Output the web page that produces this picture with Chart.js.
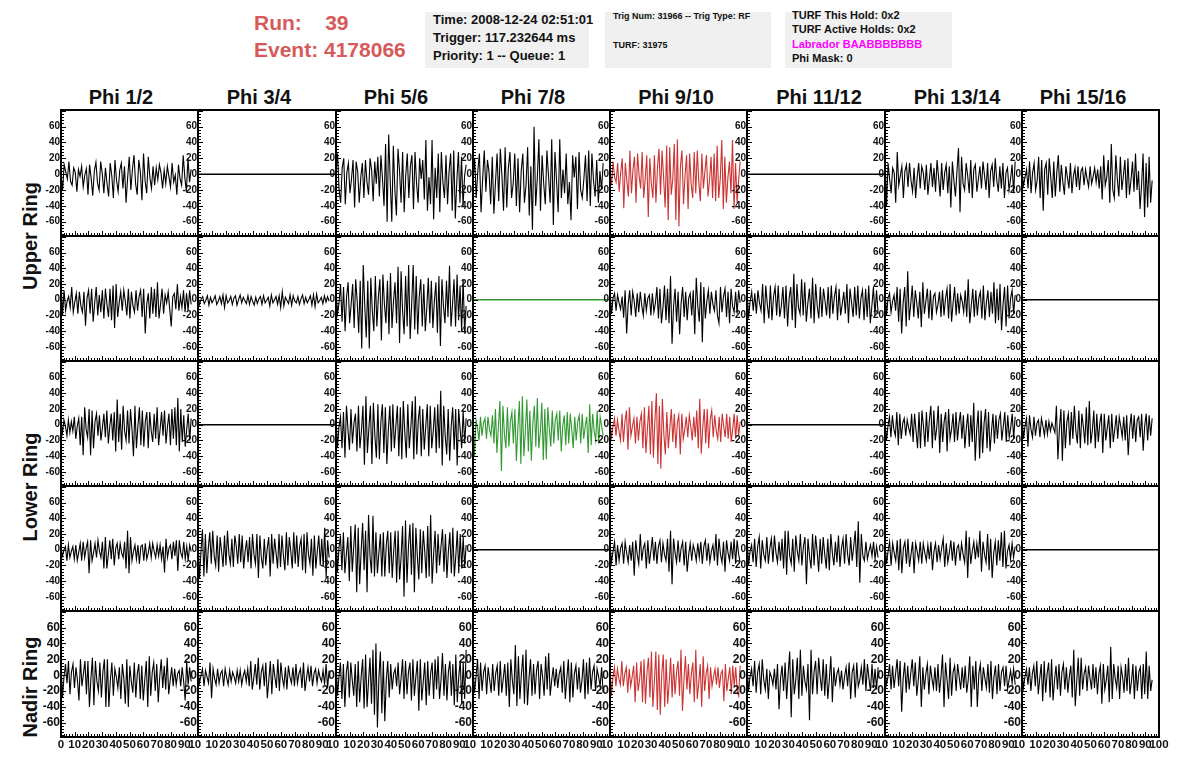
<!DOCTYPE html>
<html>
<head>
<meta charset="utf-8">
<title>Event 4178066</title>
<script src="https://cdn.jsdelivr.net/npm/chart.js@4"></script>
<style>
  html, body { margin: 0; background: #fff; }
  body { position: relative; width: 1196px; height: 772px; overflow: hidden; font-family: 'Liberation Sans', Arial, sans-serif; font-weight: bold; color: #111; }
  canvas { position: absolute; }
  .txt { position: absolute; white-space: pre; }
  .box { position: absolute; background: #f0f0f0; top: 12px; height: 56px; }
  .phi { position: absolute; top: 86px; width: 137px; text-align: center; font-size: 20px; line-height: 22px; }
  .ring { position: absolute; left: 30px; font-size: 20px; line-height: 22px; white-space: pre; transform: translate(-50%, -50%) rotate(-90deg); }
</style>
</head>
<body>
<div class="txt" style="left:254px;top:11px;font-size:21px;color:#d65a5a">Run:    39</div>
<div class="txt" style="left:254px;top:38px;font-size:21px;color:#d65a5a">Event: 4178066</div>
<div class="box" style="left:425px;width:164px"></div>
<div class="box" style="left:605px;width:166px"></div>
<div class="box" style="left:785px;width:167px"></div>
<div class="txt" style="left:433px;top:12px;font-size:13px">Time: 2008-12-24 02:51:01</div>
<div class="txt" style="left:433px;top:30px;font-size:13px">Trigger: 117.232644 ms</div>
<div class="txt" style="left:433px;top:48px;font-size:13px">Priority: 1 -- Queue: 1</div>
<div class="txt" style="left:613px;top:11px;font-size:9px">Trig Num: 31966 -- Trig Type: RF</div>
<div class="txt" style="left:613px;top:40px;font-size:9px">TURF: 31975</div>
<div class="txt" style="left:792px;top:9px;font-size:11px">TURF This Hold: 0x2</div>
<div class="txt" style="left:792px;top:23px;font-size:11px">TURF Active Holds: 0x2</div>
<div class="txt" style="left:792px;top:38px;font-size:11px;color:#ff00ff">Labrador BAABBBBBBB</div>
<div class="txt" style="left:792px;top:52px;font-size:11px">Phi Mask: 0</div>
<div class="ring" style="top:236px">Upper Ring</div>
<div class="ring" style="top:487px">Lower Ring</div>
<div class="ring" style="top:687px">Nadir Ring</div>

<script>
var phiTitles = ['Phi 1/2', 'Phi 3/4', 'Phi 5/6', 'Phi 7/8', 'Phi 9/10', 'Phi 11/12', 'Phi 13/14', 'Phi 15/16'];
var xTickLabels = [0, 10, 20, 30, 40, 50, 60, 70, 80, 90, 100];
var yTickLabels = [-60, -40, -20, 0, 20, 40, 60];

// dead channels, one straight trace over the whole window
var flat = [0, 0];

var row1phi1 = [0,-20,12,3,-6,16,-9,-14,8,2,-22,6,-3,10,-16,-1,7,-26,12,-5,-27,4,15,-11,-20,16,1,-24,8,-12,-28,14,-2,-30,18,-8,-22,5,14,-18,10,-36,-4,22,-20,6,24,-12,-26,18,3,-33,26,-9,-24,22,-4,-18,10,-14,8,-7,12,2,-18,5,-12,10,-3,-16,14,-10,-1,-26,12,-6,-14,24,-4,-22,20,-10,6];
var row1phi3 = [4,26,-20,-36,8,20,-38,2,14,-24,-6,18,-42,16,3,-36,-4,14,-30,18,-10,-26,20,5,-34,16,-12,22,-28,24,-6,-40,38,-60,50,-8,-60,36,-20,-52,32,4,-36,28,-48,-2,26,-30,10,24,-44,28,-12,-36,20,-6,18,-32,43,-46,-4,-38,43,-57,8,-30,26,-48,28,-10,-30,24,-38,4,26,-46,30,-56,-8,28,-36,22,-40,-2,12];
var row1phi4 = [-8,20,-30,4,26,-48,-6,30,-22,18,2,-38,22,-50,-10,26,-34,32,-2,-46,34,-42,8,28,-30,-12,26,-40,20,-48,4,26,-36,-14,34,-52,10,-70,60,-40,-6,44,-46,24,-12,-38,30,-2,-36,44,-64,28,-8,-48,44,-30,6,-24,26,-38,-10,-58,24,-4,22,-44,28,-20,-30,-6,24,-34,30,-40,26,-8,-28,18,-36,4,-20,14];
var row1phi5 = [6,-14,16,-4,-10,14,-22,2,20,-43,14,-8,-28,30,-24,6,22,-36,26,-2,-18,28,-30,-6,24,-54,20,-12,-30,24,-36,8,32,-26,30,-4,-42,36,-58,34,-26,-6,38,-58,44,-66,10,30,-38,-2,24,-44,26,-12,-30,28,-24,30,-10,-34,26,-18,4,24,-28,-8,22,-30,26,-34,36,-30,-6,43,-44,22,-36,-4,16,-24,43,-44,14,-36,-8,16];
var row1phi7 = [22,-40,14,-6,-24,8,2,-36,28,-14,-2,10,-30,4,12,-16,14,-8,-22,8,-30,-4,14,-18,10,2,-20,12,-26,-6,14,-16,8,-22,18,-4,-28,14,-20,2,12,-24,10,-42,16,-8,-28,4,33,-48,22,-12,-20,14,-2,-24,18,-30,6,12,-22,-6,10,-18,16,-2,-20,14,-30,4,12,-16,20,-8,-22,10,-18,14,-30,2,8,-20,-6,12,-24,16];
var row1phi8 = [4,-14,-4,6,-18,16,-24,2,14,-20,-8,22,-30,18,-46,6,14,-26,20,-4,-30,16,-28,2,24,-22,12,-10,-26,10,-4,-18,14,-24,-2,8,-16,10,-20,4,8,-14,6,-6,-16,10,-12,-3,8,-10,6,-18,10,-32,24,-14,-4,18,-36,38,-20,-30,24,-6,-28,22,-20,-2,18,-30,20,-26,-8,16,-22,26,-20,4,-44,-14,26,-54,14,-42,22,-36,-8];

var row2phi1 = [24,-20,12,-14,-2,4,-10,16,-16,-3,8,-18,10,-8,-16,10,-33,2,12,-18,14,-28,-4,16,-20,6,-16,12,-24,14,-6,-22,14,-26,18,-36,20,-22,-4,10,-14,12,-2,-20,14,-24,10,-8,-16,12,-14,4,12,-22,14,-43,-6,8,-24,16,-18,14,-22,22,-24,-6,14,-18,6,-4,10,-12,-34,4,8,-12,20,-14,4,-10,12,-16,8,-14,12,-6];
var row2phi2 = [3,-6,1,4,-5,-1,5,-7,3,-4,0,5,-6,-2,4,-5,6,-10,5,-4,-1,4,-6,2,5,-7,0,6,-4,3,-1,-5,5,-6,4,-2,-7,3,-5,1,4,-6,5,-4,-1,3,-8,6,-4,0,4,-6,5,-10,10,-8,3,-1,-5,6,-7,5,-2,-4,4,-6,1,6,-5,3,-4,0,5,-7,6,-9,7,-4,-1,3,-5,5,-3,4,-2];
var row2phi3 = [12,-18,-4,20,-28,16,-40,4,22,-30,-6,20,-36,26,-2,-42,24,-62,44,-8,-48,24,-62,28,-14,-40,30,-34,4,26,-52,32,-6,-30,24,-44,34,-36,-2,22,-30,42,-55,36,-14,-44,30,-34,44,-50,-6,44,-38,30,-44,4,26,-34,20,-40,-10,28,-30,24,-36,-2,22,-42,30,-59,26,-8,-30,24,-22,43,-34,-6,26,-34,32,-26,18,-40,26,-42,-8];
var row2phi5 = [14,-18,2,8,-14,6,-4,-12,4,-23,12,-43,-6,12,-20,10,-2,-22,8,-16,10,-8,-20,8,-14,2,6,-20,8,-16,-4,16,-24,14,-30,-10,18,-26,14,-30,30,-56,-8,14,-28,10,-44,-4,16,-22,10,-26,2,8,-20,12,-44,28,-8,-28,22,-54,16,-24,-2,12,-18,10,-6,-14,12,-20,-30,16,-16,4,14,-22,10,-30,14,-8,-16,10,-18,12,-4];
var row2phi6 = [12,-24,-2,10,-14,8,-18,12,-4,-14,20,-30,18,-6,-24,18,-26,4,16,-20,18,-22,-8,16,-24,18,-34,2,16,-26,33,-36,20,-10,-18,26,-20,22,-28,-4,14,-24,28,-30,20,-8,-24,16,-22,14,-2,-20,16,-24,18,-18,4,16,-26,14,-20,-6,10,-18,20,-30,14,-4,-22,16,-20,18,-24,2,12,-26,14,-22,18,-30,-8,16,-20,12,-18];
var row2phi7 = [14,-20,2,8,-16,-2,6,-14,16,-28,14,-43,-4,16,-34,36,-26,-6,18,-22,12,-4,-24,10,-35,22,-18,-2,14,-24,12,-26,4,8,-16,-6,10,-22,12,-20,2,14,-24,20,-28,-4,16,-20,8,-18,6,-2,-16,12,-22,26,-30,-8,14,-22,12,-20,2,10,-24,18,-26,-4,12,-22,10,-18,22,-30,14,-26,20,-39,-6,16,-34,18,-24,2,12,-18,6];

var row3phi1 = [4,-10,6,-2,-14,6,-10,4,-8,10,-18,-2,8,-26,10,-39,22,-6,-16,20,-39,18,-30,4,14,-14,12,-20,-4,14,-16,18,-24,-2,14,-20,16,-34,32,-22,14,-32,24,-8,-20,18,-24,20,-6,-40,24,-30,-2,22,-26,18,-28,4,16,-30,16,-8,-22,14,-18,22,-26,-6,16,-14,18,-24,-2,14,-26,20,-18,22,-26,34,-34,20,-22,12,-28,-6,14,-20,8];
var row3phi3 = [8,-30,-2,10,-30,16,-42,24,-6,-32,20,-24,2,14,-34,24,-30,-8,24,-51,36,-36,-4,24,-50,28,-14,-42,26,-44,4,26,-36,22,-50,-6,24,-34,26,-30,-2,24,-40,22,-44,30,-10,-42,26,-30,-4,30,-44,36,-38,6,24,-40,20,-32,-2,26,-40,24,-30,-8,22,-36,26,-30,43,-52,24,-14,-38,20,-46,-2,22,-32,20,-52,20,-6,-30,18,-24,8];
var row3phi4 = [14,-40,6,-4,-20,10,-14,2,8,-18,10,-6,-14,12,-24,20,-36,-2,30,-59,24,-12,-30,22,-28,4,16,-24,20,-46,-4,30,-50,36,-40,-8,32,-34,18,-46,2,24,-28,34,-30,-10,28,-45,20,-44,22,-4,-28,18,-24,6,14,-20,18,-34,-2,12,-26,16,-24,14,-6,-30,10,-20,4,12,-24,14,-18,-2,10,-36,26,-26,14,-8,-20,18,-24,10,-2,-14];
var row3phi5 = [6,-16,-2,8,-14,6,-8,-20,14,-22,4,18,-32,22,-14,-2,8,-24,10,-20,4,14,-30,22,-36,-6,24,-38,30,-42,4,40,-50,24,-56,33,-12,-38,16,-30,-4,20,-22,14,-30,2,12,-38,14,-18,-6,10,-16,12,-2,-20,10,-16,18,-30,33,-37,-4,20,-24,20,-30,6,18,-16,12,-8,-18,10,-22,14,-2,-16,14,-18,10,-22,-6,14,-18,12,-14,4];
var row3phi7 = [4,-20,-2,10,-16,12,-6,-14,16,-26,14,-18,2,8,-14,6,-4,-12,14,-22,14,-8,-30,16,-30,18,-2,-28,16,-22,6,24,-30,18,-20,-4,24,-36,14,-22,4,16,-34,20,-18,-6,14,-22,16,-20,2,16,-18,12,-30,-4,14,-28,12,-22,28,-46,-6,18,-43,18,-36,2,20,-30,16,-34,-8,14,-24,12,-18,6,14,-20,-2,16,-22,12,-16,-4,14,-18,10];
var row3phi8 = [14,-18,-2,8,-28,12,-6,-16,10,-14,2,6,-16,8,-2,-14,6,-12,4,-8,2,-4,-10,24,-44,-6,20,-46,18,-30,4,14,-26,16,-18,24,-8,-24,18,-30,14,-2,-24,22,-26,30,-24,-8,18,-30,14,-22,2,14,-36,14,-20,-4,12,-30,14,-22,-6,12,-18,10,-2,-16,10,-20,12,-39,-4,14,-18,12,-22,6,10,-16,14,-33,-2,14,-20,12,-14,8];

var row4phi1 = [2,-8,0,4,-14,6,-10,-2,4,-12,6,-14,-3,8,-14,10,-10,2,10,-30,12,-14,-4,8,-10,12,-2,-10,10,-24,16,-24,-6,12,-12,14,-20,2,8,-12,8,-4,-10,10,-24,24,-30,16,-14,-2,6,-12,6,-18,4,6,-14,8,-12,-4,8,-10,8,-2,-10,6,-8,6,-12,4,-29,14,-10,2,6,-12,10,-8,12,-27,12,-4,-10,10,-12,4,-14,6,-2];
var row4phi2 = [16,-37,-4,26,-34,20,-30,2,22,-18,24,-8,-20,18,-28,16,-2,-22,18,-20,24,-6,-18,14,-22,18,4,-18,20,-16,18,-24,-2,12,-16,16,-24,20,-6,-18,20,-36,18,-10,-24,14,-20,2,16,-34,20,-18,14,-4,-24,20,-22,18,-8,-26,22,-20,16,-2,-24,22,-18,18,-22,4,14,-26,20,-30,22,-6,-18,14,-33,18,-24,-2,18,-20,14,-22,28,-36,12,-10];
var row4phi3 = [20,-28,2,18,-26,22,-30,-6,16,-40,30,-28,4,32,-54,28,-44,-2,34,-26,24,-54,44,-8,-30,43,-34,22,-30,-4,20,-34,22,-34,6,24,-30,22,-36,-2,24,-42,24,-38,-10,30,-60,37,-42,4,32,-32,34,-54,28,-8,-38,26,-30,24,-2,-36,30,-34,44,-43,-6,24,-30,20,-20,4,26,-28,20,-36,-2,22,-30,28,-34,-8,24,-30,20,-24,16,-22,6];
var row4phi5 = [6,-16,-2,10,-20,6,-14,2,8,-18,10,-4,-16,6,-14,10,-33,12,-6,-18,20,-14,2,8,-24,12,-18,-2,16,-14,10,-18,4,12,-16,8,-6,-14,14,-28,24,-44,14,-4,-16,12,-16,2,10,-20,10,-28,-6,8,-14,6,-2,-14,8,-10,10,-18,4,12,-14,8,-16,-2,6,-14,20,-20,14,-6,-16,10,-28,12,-4,-14,10,-12,14,-18,12,-6,-16];
var row4phi6 = [18,-20,-2,6,-16,14,-22,4,16,-24,12,-6,-14,16,-18,2,14,-16,18,-4,-16,10,-14,14,-24,24,-32,24,-8,-18,14,-28,18,-2,-14,20,-20,4,16,-44,14,-8,-24,20,-20,18,-2,-28,14,-18,16,-6,-24,14,-26,20,-4,-20,10,-16,18,-22,2,14,-18,20,-6,-20,16,-14,4,24,-22,36,-42,20,-8,-14,10,-12,-2,6,-8,10,-12,4,-10];
var row4phi7 = [8,-18,-2,10,-20,8,-4,-14,12,-26,14,-30,2,10,-18,14,-22,-6,10,-30,8,-2,-14,10,-18,8,-4,-14,6,-12,10,-26,-2,8,-16,6,-12,2,14,-22,8,-16,-4,12,-14,10,-20,2,6,-14,8,-6,-16,24,-36,16,-18,-2,10,-12,8,-10,24,-28,10,-6,-16,20,-26,14,-36,-4,10,-20,12,-14,22,-22,24,-24,-2,6,-12,8,-10,4];

var row5phi1 = [16,-28,-2,14,-10,18,-24,4,14,-16,10,-6,-32,20,-14,2,18,-24,18,-40,-4,22,-38,18,-8,-20,16,-28,4,20,-40,20,-40,-6,16,-26,8,-2,-16,10,-30,14,-4,-36,20,-40,12,-8,-22,16,-28,2,14,-30,12,-32,-6,18,-40,24,-26,4,16,-20,14,-34,-2,20,-16,12,-18,22,-24,-6,10,-14,8,-12,2,6,-14,10,-8,-32,18,-12,10,-8];
var row5phi2 = [6,-10,0,8,-14,6,-2,-10,16,-29,8,-4,-12,8,-10,2,6,-14,8,-3,-12,6,-8,4,-2,-10,6,-8,6,-12,-1,6,-8,8,-14,18,-18,-4,14,-12,22,-18,4,12,-14,16,-29,-6,18,-24,14,-2,-16,20,-20,16,-4,-14,10,-18,12,-2,-10,10,-14,14,-10,2,8,-16,16,-20,-4,10,-8,12,-14,2,8,-10,6,-3,-8,6,-12,14,-16,6];
var row5phi3 = [18,-26,-2,16,-30,14,-40,4,18,-28,16,-6,-26,14,-40,18,-34,-2,20,-42,26,-40,-8,22,-36,32,-50,40,-66,-4,30,-48,18,-58,-6,18,-28,14,-18,2,8,-14,16,-24,-4,20,-30,18,-24,4,16,-32,20,-26,-2,18,-45,20,-32,-8,16,-38,18,-26,2,16,-30,20,-18,24,-30,-6,28,-26,14,-32,4,18,-26,14,-38,26,-34,-2,18,-36,16,-30,32];
var row5phi4 = [10,-22,-2,20,-30,16,-20,4,12,-24,10,-6,-22,14,-20,2,12,-26,18,-22,-4,14,-26,16,-40,20,-6,-24,38,-39,24,-30,2,26,-36,32,-38,-4,20,-26,14,-24,6,18,-30,14,-2,-26,24,-18,28,-26,-6,10,-14,8,-16,2,10,-22,18,-30,-4,20,-34,16,-28,2,12,-18,10,-22,-6,20,-30,16,-24,22,-18,4,12,-20,8,-2,-14,10,-22];
var row5phi5 = [14,-26,-2,10,-14,8,-4,-12,18,-14,2,10,-22,8,-14,-2,12,-34,16,-20,-6,18,-34,20,-36,4,22,-28,30,-40,-8,30,-44,26,-50,2,26,-40,20,-36,-10,22,-28,14,-24,4,18,-26,32,-45,-6,24,-18,14,-24,2,16,-34,32,-30,-10,14,-40,24,-20,2,12,-30,10,-14,-2,8,-12,10,-16,2,6,-33,14,-20,-4,10,-24,12,-14,10,-20,-26,12];
var row5phi6 = [14,-20,-2,8,-14,18,-22,4,14,-24,20,-6,-18,8,-30,4,-2,-12,8,-18,14,-43,-4,12,-20,16,-30,2,30,-53,20,-24,-6,22,-30,32,-26,12,-8,-18,14,-57,32,-24,4,18,-24,22,-2,-20,20,-26,14,-30,-6,24,-34,10,-14,2,8,-12,6,-18,-2,10,-14,16,-30,4,12,-28,16,-14,-6,10,-12,20,-20,14,-4,-20,14,-16,8,-18,10];
var row5phi7 = [8,-12,-2,14,-18,12,-16,2,20,-14,18,-46,-4,16,-22,12,-18,2,20,-14,16,-26,-6,24,-40,10,-18,2,14,-24,12,-4,-16,10,-20,14,-22,-2,26,-40,16,-6,-30,22,-26,4,12,-20,14,-2,-18,10,-16,12,-22,-6,24,-40,12,-18,18,-40,2,14,-20,10,-4,-16,14,-22,18,-30,-2,12,-24,14,-20,4,10,-14,12,-18,-6,6,-10,8,-12];
var row5phi8 = [8,-16,-2,8,-12,10,-20,2,12,-14,18,-24,-4,14,-33,18,-22,2,16,-28,20,-32,-6,12,-18,14,-26,4,14,-18,10,-22,-2,12,-28,32,-39,-8,22,-26,22,-18,2,10,-20,12,-4,-18,14,-16,10,-24,2,12,-36,14,-18,-6,12,-34,36,-30,14,-4,-16,12,-30,10,-2,-22,14,-20,22,-24,-8,14,-30,12,-20,4,10,-30,14,-24,30,-30,12,-20,-6];

var rows = [
  [row1phi1, flat, row1phi3, row1phi4, row1phi5, flat, row1phi7, row1phi8],
  [row2phi1, row2phi2, row2phi3, flat, row2phi5, row2phi6, row2phi7, flat],
  [row3phi1, flat, row3phi3, row3phi4, row3phi5, flat, row3phi7, row3phi8],
  [row4phi1, row4phi2, row4phi3, flat, row4phi5, row4phi6, row4phi7, flat],
  [row5phi1, row5phi2, row5phi3, row5phi4, row5phi5, row5phi6, row5phi7, row5phi8]
];

var black = '#000', red = '#cc3333', green = '#339933';
var rowColors = [
  [black, black, black, black, red, black, black, black],
  [black, black, black, green, black, black, black, black],
  [black, black, black, green, red, black, black, black],
  [black, black, black, black, black, black, black, black],
  [black, black, black, black, red, black, black, black]
];

var frameX = [61, 198, 336, 473, 610, 747, 885, 1022, 1159];
var frameY = [110, 236, 361, 486, 611, 737];
var titleCenters = [121, 259, 396, 533, 676, 819, 957, 1083];
var FONT = "'Liberation Sans', Arial, sans-serif";

// ROOT style frame: inward ticks on the left and the bottom, drawn off the chart's scales
var rootFrame = {
  id: 'rootFrame',
  afterDraw(chart) {
    let ctx = chart.ctx, a = chart.chartArea, x = chart.scales.x, y = chart.scales.y;
    ctx.save();
    ctx.strokeStyle = '#000';
    ctx.lineWidth = 1;
    ctx.beginPath();
    for (let v = -76; v <= 80; v += 4) {
      let len = v % 20 === 0 ? 5 : 3;
      let py = Math.round(y.getPixelForValue(v)) + 0.5;
      ctx.moveTo(a.left, py);
      ctx.lineTo(a.left + len, py);
    }
    for (let v = 0; v <= 100; v += 2) {
      let len = v % 10 === 0 ? 5 : 3;
      let px = Math.round(x.getPixelForValue(v)) + 0.5;
      ctx.moveTo(px, a.bottom);
      ctx.lineTo(px, a.bottom - len);
    }
    ctx.stroke();
    ctx.lineWidth = 2;
    ctx.strokeRect(a.left, a.top, a.right - a.left, a.bottom - a.top);
    ctx.restore();
  }
};

function addPanel(r, c) {
  let bottomRow = r === rows.length - 1;
  let lastCol = c === phiTitles.length - 1;
  let w = frameX[c + 1] - frameX[c];
  let h = frameY[r + 1] - frameY[r];
  // the canvas edge cuts the "100" label of the inner panels down to "10"
  let padLeft = 30, padTop = 2, padRight = lastCol ? 16 : 3, padBottom = bottomRow ? 20 : 2;

  let canvas = document.createElement('canvas');
  canvas.width = padLeft + w + padRight;
  canvas.height = padTop + h + padBottom;
  canvas.style.left = (frameX[c] - padLeft) + 'px';
  canvas.style.top = (frameY[r] - padTop) + 'px';
  document.body.appendChild(canvas);

  let values = rows[r][c];
  // the waveforms stop near 95 ns, the dead channels span the window
  let span = values === flat ? 100 : 95;
  let xLabels = c === 0 ? xTickLabels : xTickLabels.slice(1);

  new Chart(canvas, {
    type: 'line',
    data: {
      datasets: [{
        data: values.map((v, i) => ({ x: i * span / (values.length - 1), y: v })),
        borderColor: rowColors[r][c],
        borderWidth: values === flat ? 1.5 : 1.1,
        pointRadius: 0,
        tension: 0
      }]
    },
    options: {
      responsive: false,
      animation: false,
      layout: { padding: { left: 0, top: padTop, right: padRight, bottom: 0 } },
      plugins: { legend: { display: false }, tooltip: { enabled: false } },
      scales: {
        x: {
          type: 'linear', min: 0, max: 100,
          grid: { display: false, drawTicks: false }, border: { display: false },
          afterBuildTicks: s => { s.ticks = xLabels.map(v => ({ value: v })); },
          afterFit: s => { s.height = padBottom; s.paddingLeft = 0; s.paddingRight = 0; },
          ticks: { display: bottomRow, autoSkip: false, maxRotation: 0, padding: 1, color: '#111', font: { family: FONT, size: 11.5, weight: 'bold' } }
        },
        y: {
          type: 'linear', min: -78, max: 81,
          grid: { display: false, drawTicks: false }, border: { display: false },
          afterBuildTicks: s => { s.ticks = yTickLabels.map(v => ({ value: v })); },
          afterFit: s => { s.width = padLeft; s.paddingTop = 0; s.paddingBottom = 0; },
          ticks: { autoSkip: false, padding: 1, color: '#111', font: { family: FONT, size: bottomRow ? 12 : 10, weight: 'bold' } }
        }
      }
    },
    plugins: [rootFrame]
  });
}

phiTitles.forEach((title, c) => {
  let d = document.createElement('div');
  d.className = 'phi';
  d.style.left = (titleCenters[c] - 68.5) + 'px';
  d.textContent = title;
  document.body.appendChild(d);
});

rows.forEach((row, r) => row.forEach((values, c) => addPanel(r, c)));
</script>
</body>
</html>
